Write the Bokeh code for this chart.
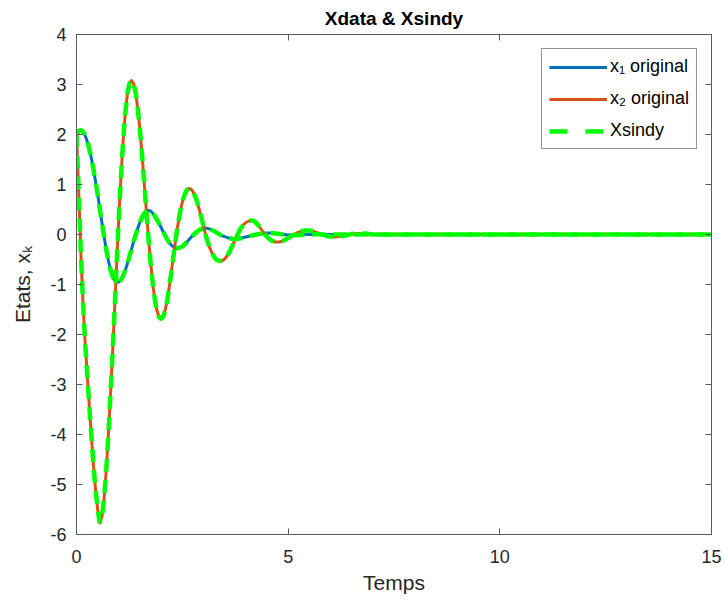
import numpy as np
from bokeh.plotting import figure
from bokeh.models import Range1d, FixedTicker, LinearAxis, Legend, LegendItem
from bokeh.embed import file_html
from bokeh.resources import INLINE

# time samples (s)
t = np.concatenate([np.round(np.arange(0, 4.0001, 0.05), 2),
                    np.round(np.arange(4.1, 7.0001, 0.1), 2),
                    [8.0, 10.0, 12.0, 15.0]])

# x1 original
x1 = [
    2.0, 2.07, 2.09, 2.06, 1.99, 1.87, 1.72, 1.53, 1.31, 1.06,          # 0.00-0.45
    0.8, 0.52, 0.24, -0.03, -0.29, -0.51, -0.69, -0.83, -0.92, -0.96,    # 0.50-0.95
    -0.95, -0.91, -0.83, -0.72, -0.59, -0.44, -0.29, -0.14, 0.0, 0.13,   # 1.00-1.45
    0.25, 0.35, 0.42, 0.47, 0.48, 0.47, 0.43, 0.37, 0.3, 0.22,           # 1.50-1.95
    0.14, 0.05, -0.03, -0.11, -0.17, -0.22, -0.25, -0.27, -0.27, -0.26,  # 2.00-2.45
    -0.24, -0.2, -0.16, -0.11, -0.06, -0.02, 0.02, 0.06, 0.09, 0.11,     # 2.50-2.95
    0.12, 0.13, 0.12, 0.11, 0.09, 0.07, 0.04, 0.02, -0.01, -0.03,        # 3.00-3.45
    -0.04, -0.06, -0.07, -0.08, -0.09, -0.09, -0.09, -0.08, -0.07, -0.06,  # 3.50-3.95
    -0.05,                                                                # 4.00
    -0.03, -0.01, 0.01, 0.02, 0.03, 0.03, 0.02, 0.01, 0.0, -0.01,        # 4.1-5.0
    -0.01, -0.01, -0.01, 0.0, 0.0, 0.0, 0.01, 0.0, 0.0, 0.0,             # 5.1-6.0
    0.0, 0.0, 0.0, 0.0, 0.0, 0.0, 0.0, 0.0, 0.0, 0.0,                    # 6.1-7.0
    0.0, 0.0, 0.0, 0.0,                                                   # 8-15
]

# x2 original
x2 = [
    2.0, 0.9, -0.3, -1.3, -2.1, -2.75, -3.4, -4.0, -4.6, -5.1,           # 0.00-0.45
    -5.5, -5.77, -5.65, -5.3, -4.75, -4.05, -3.25, -2.4, -1.5, -0.55,    # 0.50-0.95
    0.35, 1.15, 1.85, 2.4, 2.8, 3.02, 3.08, 3.02, 2.82, 2.5,             # 1.00-1.45
    2.08, 1.58, 1.03, 0.47, -0.07, -0.55, -0.97, -1.3, -1.52, -1.65,     # 1.50-1.95
    -1.69, -1.64, -1.5, -1.28, -1.0, -0.69, -0.37, -0.06, 0.22, 0.46,    # 2.00-2.45
    0.65, 0.79, 0.88, 0.92, 0.91, 0.86, 0.77, 0.65, 0.5, 0.34,           # 2.50-2.95
    0.17, -0.01, -0.15, -0.27, -0.37, -0.45, -0.5, -0.52, -0.53, -0.52,  # 3.00-3.45
    -0.49, -0.44, -0.37, -0.28, -0.19, -0.1, -0.01, 0.08, 0.15, 0.2,     # 3.50-3.95
    0.24,                                                                 # 4.00
    0.28, 0.27, 0.18, 0.06, -0.05, -0.12, -0.15, -0.15, -0.12, -0.07,    # 4.1-5.0
    -0.02, 0.03, 0.06, 0.08, 0.08, 0.06, 0.03, 0.0, -0.03, -0.04,        # 5.1-6.0
    -0.05, -0.04, -0.03, -0.01, 0.01, 0.02, 0.02, 0.02, 0.01, 0.0,       # 6.1-7.0
    0.0, 0.0, 0.0, 0.0,                                                   # 8-15
]

x_ticks = [0, 5, 10, 15]
y_ticks = [-6, -5, -4, -3, -2, -1, 0, 1, 2, 3, 4]

FONT = "Liberation Sans"
AX = "#5a5a5a"
TXT = "#262626"

p = figure(width=724, height=601, x_range=Range1d(0, 15), y_range=Range1d(-6, 4),
           output_backend="svg", toolbar_location=None,
           min_border_left=76, min_border_right=13, min_border_top=34, min_border_bottom=67,
           title="Xdata & Xsindy")
p.title.align = "center"
p.title.text_font = FONT
p.title.text_font_size = "19px"
p.title.text_font_style = "bold"
p.title.text_color = "#000000"
p.title.standoff = 11
p.xgrid.visible = False
p.ygrid.visible = False
p.outline_line_color = AX
p.outline_line_width = 1

def style_axis(ax, ticks, labels=True):
    ax.ticker = FixedTicker(ticks=ticks)
    ax.axis_line_color = AX
    ax.major_tick_line_color = AX
    ax.major_tick_in = 6
    ax.major_tick_out = 0
    ax.minor_tick_line_color = None
    ax.major_label_text_font = FONT
    ax.major_label_text_color = TXT
    if labels:
        ax.major_label_text_font_size = "18px"
        ax.major_label_overrides = {v: str(v) for v in ticks}
    else:
        ax.major_label_text_font_size = "0px"
        ax.major_label_text_color = None
        ax.major_label_standoff = 0

style_axis(p.xaxis[0], x_ticks)
style_axis(p.yaxis[0], y_ticks)
p.xaxis[0].major_label_standoff = 15
p.yaxis[0].major_label_standoff = 10
p.xaxis.axis_label = "Temps"
p.yaxis.axis_label = "Etats, xₖ"
for ax in (p.xaxis[0], p.yaxis[0]):
    ax.axis_label_text_font = FONT
    ax.axis_label_text_font_size = "21px"
    ax.axis_label_text_font_style = "normal"
    ax.axis_label_text_color = TXT
p.xaxis[0].axis_label_standoff = 5
p.yaxis[0].axis_label_standoff = 13

top_ax = LinearAxis()
style_axis(top_ax, x_ticks, labels=False)
p.add_layout(top_ax, "above")
right_ax = LinearAxis()
style_axis(right_ax, y_ticks, labels=False)
p.add_layout(right_ax, "right")

BLUE = "#0072BD"
ORANGE = "#D95319"
GREEN = "#00FF00"

r1 = p.line(t, x1, line_color=BLUE, line_width=3, line_join="round")
r2 = p.line(t, x2, line_color=ORANGE, line_width=3, line_join="round")
g2 = p.line(t, x2, line_color=GREEN, line_width=4.5, line_dash="13 8")
g1 = p.line(t, x1, line_color=GREEN, line_width=4.5, line_dash="13 8")
# legend-only proxy (single point, draws nothing on the plot) for the legend dash pattern
g_leg = p.line(t[:1], x1[:1], line_color=GREEN, line_width=4.5, line_dash="18 18")

legend = Legend(items=[
    LegendItem(label="x₁ original", renderers=[r1]),
    LegendItem(label="x₂ original", renderers=[r2]),
    LegendItem(label="Xsindy", renderers=[g_leg]),
], location="top_right")
legend.label_text_font = FONT
legend.label_text_font_size = "18px"
legend.label_text_color = "#000000"
legend.glyph_width = 58
legend.glyph_height = 20
legend.label_height = 20
legend.spacing = 11
legend.padding = 7
legend.margin = 14
legend.label_standoff = 3
legend.border_line_color = TXT
legend.border_line_width = 1
legend.background_fill_color = "white"
legend.background_fill_alpha = 1
p.add_layout(legend)

open("out.html", "w").write(file_html(p, INLINE))
